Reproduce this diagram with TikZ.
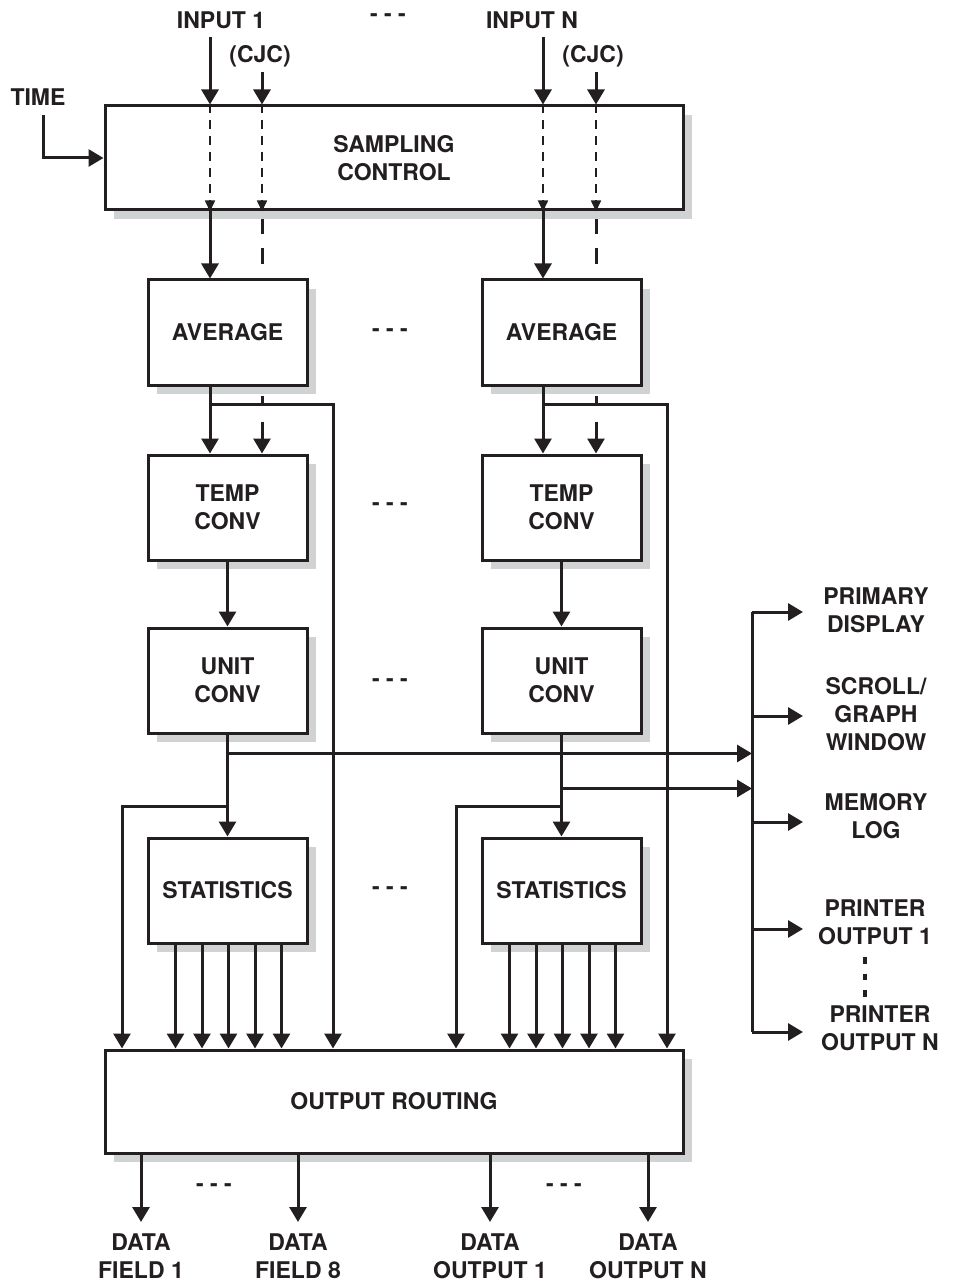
\documentclass[tikz,border=0pt]{standalone}
\usepackage{fontspec}
\setmainfont{TeX Gyre Heros}
\usetikzlibrary{arrows.meta,shadows,calc}
\definecolor{shade}{HTML}{D1D2D4}
\definecolor{ink}{HTML}{231F20}
\begin{document}
\begin{tikzpicture}[x=0.5pt,y=-0.5pt,
  every node/.style={font=\fontsize{11.5}{14}\selectfont\bfseries, text=ink, align=center, inner sep=0pt},
  box/.style={draw=ink, line width=1.5pt, fill=white,
    general shadow={fill=shade, shadow xshift=4.5pt, shadow yshift=-4.5pt},
    minimum width=79.5pt, minimum height=52.5pt},
  wide/.style={box, minimum width=289pt},
  wire/.style={draw=ink, line width=1.5pt},
  arr/.style={wire, -{Triangle[length=7.5pt,width=8.5pt]}},
  thindash/.style={draw=ink, line width=0.8pt, dash pattern=on 4.5pt off 3.5pt,
    -{Triangle[length=5.5pt,width=5pt]}},
  cjcdash/.style={arr, dash pattern=on 7.5pt off 7pt on 8pt off 65.5pt on 4.5pt off 8.5pt on 30pt off 4pt, dash phase=131pt},
  vdots/.style={draw=ink, line width=2pt, dash pattern=on 3.25pt off 5pt},
]
\useasboundingbox (0,0) rectangle (952,1283);

% ---------- labels on top ----------
\node (in1)  at (221,20) {INPUT 1};
\node (cjc1) at (260,56) {(CJC)};
\node (inN)  at (532,20) {INPUT N};
\node (cjcN) at (593,56) {(CJC)};
\node (dtop) at (388,18) {- - -};
\node (time) at (38,97.5) {TIME};

% ---------- boxes ----------
\node[wide, minimum height=52pt] (samp) at (394,158) {SAMPLING\\CONTROL};
\node[box] (avg1)  at (227.5,332.5) {AVERAGE};
\node[box] (avg2)  at (561.5,332.5) {AVERAGE};
\node[box] (temp1) at (227.5,507.5) {TEMP\\CONV};
\node[box] (temp2) at (561.5,507.5) {TEMP\\CONV};
\node[box] (unit1) at (227.5,680.5) {UNIT\\CONV};
\node[box] (unit2) at (561.5,680.5) {UNIT\\CONV};
\node[box] (stat1) at (227.5,890.5) {STATISTICS};
\node[box] (stat2) at (561.5,890.5) {STATISTICS};
\node[wide, minimum height=51.5pt] (route) at (394,1101.5) {OUTPUT ROUTING};

\node (d1) at (390,333) {- - -};
\node (d2) at (390,507) {- - -};
\node (d3) at (390,683) {- - -};
\node (d4) at (390,891) {- - -};

% ---------- coordinates ----------
\coordinate (s1) at (210,37);
\coordinate (s2) at (262,72);
\coordinate (s3) at (543,37);
\coordinate (s4) at (596,72);
\coordinate (t0) at (43,115);
\coordinate (r1) at (333,0);
\coordinate (r2) at (667,0);
\coordinate (l1) at (122,0);
\coordinate (l2) at (456,0);
\coordinate (busx) at (752,0);

% ---------- inputs ----------
\draw[arr] (t0) |- (samp.west);
\foreach \s in {s1,s2,s3,s4} {
  \draw[arr] (\s) -- (\s |- samp.north);
  \draw[thindash] (\s |- samp.north) -- (\s |- samp.south);
}
\draw[arr] (s1 |- samp.south) -- (s1 |- avg1.north);
\draw[arr] (s3 |- samp.south) -- (s3 |- avg2.north);
\draw[cjcdash] (s2 |- samp.south) -- (s2 |- temp1.north);
\draw[cjcdash] (s4 |- samp.south) -- (s4 |- temp2.north);

% ---------- average to temp ----------
\draw[arr] (s1 |- avg1.south) -- (s1 |- temp1.north);
\draw[arr] (s3 |- avg2.south) -- (s3 |- temp2.north);
\draw[arr] ($(s1 |- avg1.south)+(0,18)$) -| (r1 |- route.north);
\draw[arr] ($(s3 |- avg2.south)+(0,18)$) -| (r2 |- route.north);

% ---------- temp to unit to stats ----------
\draw[arr] (temp1.south) -- (unit1.north);
\draw[arr] (temp2.south) -- (unit2.north);
\draw[arr] (unit1.south) -- (stat1.north);
\draw[arr] (unit2.south) -- (stat2.north);
\coordinate (h1) at ($(unit1.south)+(0,19)$);
\coordinate (h2) at ($(unit2.south)+(0,54)$);
\draw[arr] (h1) -- (h1 -| busx);
\draw[arr] (h2) -- (h2 -| busx);
\draw[arr] ($(unit1.south)+(0,72)$) -| (l1 |- route.north);
\draw[arr] ($(unit2.south)+(0,72)$) -| (l2 |- route.north);

% ---------- statistics to routing ----------
\foreach \i in {-2,...,2} {
  \draw[arr] ($(stat1.south)+(\i*26.5+1,0)$) -- ($(stat1.south |- route.north)+(\i*26.5+1,0)$);
  \draw[arr] ($(stat2.south)+(\i*26.5+1,0)$) -- ($(stat2.south |- route.north)+(\i*26.5+1,0)$);
}

% ---------- right-hand outputs ----------
\coordinate (o1) at (803,612);
\coordinate (o2) at (803,716);
\coordinate (o3) at (803,822);
\coordinate (o4) at (803,929);
\coordinate (o5) at (803,1032);
\draw[wire] (o1 -| busx) -- (o5 -| busx);
\foreach \o in {o1,o2,o3,o4,o5} { \draw[arr] (\o -| busx) -- (\o); }
\node (pd) at (876,610) {PRIMARY\\DISPLAY};
\node (sg) at (876,714) {SCROLL/\\GRAPH\\WINDOW};
\node (ml) at (876,816) {MEMORY\\LOG};
\node (p1) at (875,922) {PRINTER\\OUTPUT 1};
\node (pN) at (880,1028) {PRINTER\\OUTPUT N};
\coordinate (v1) at (865,957);
\coordinate (v2) at (865,997);
\draw[vdots] (v1) -- (v2);

% ---------- bottom outputs ----------
\coordinate (e1) at (141,1222);
\coordinate (e2) at (298,1222);
\coordinate (e3) at (490,1222);
\coordinate (e4) at (648,1222);
\foreach \e in {e1,e2,e3,e4} { \draw[arr] (\e |- route.south) -- (\e); }
\node (df1) at (141,1256) {DATA\\FIELD 1};
\node (df8) at (298,1256) {DATA\\FIELD 8};
\node (do1) at (490,1256) {DATA\\OUTPUT 1};
\node (doN) at (648,1256) {DATA\\OUTPUT N};
\node (db1) at (214,1188) {- - -};
\node (db2) at (564,1188) {- - -};
\end{tikzpicture}
\end{document}
